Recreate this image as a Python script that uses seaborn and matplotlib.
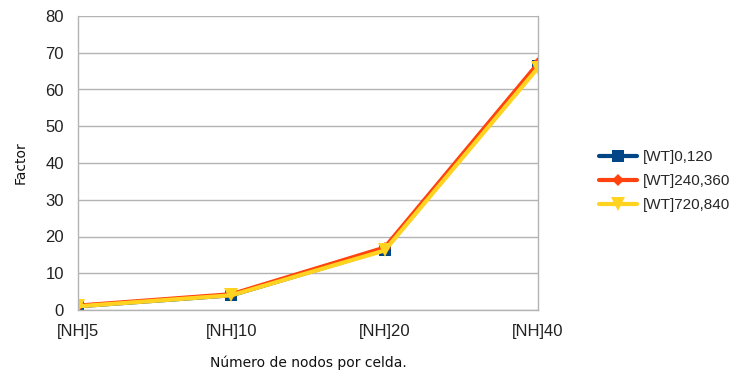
import matplotlib
matplotlib.use("Agg")
import matplotlib.pyplot as plt
import seaborn as sns
import pandas as pd

categories = ["[NH]5", "[NH]10", "[NH]20", "[NH]40"]
series_names = ["[WT]0,120", "[WT]240,360", "[WT]720,840"]
wt_0_120 = [1.0, 4.0, 16.4, 66.4]
wt_240_360 = [1.2, 4.3, 17.0, 67.1]
wt_720_840 = [1.0, 4.0, 16.2, 65.9]
yticks = [0, 10, 20, 30, 40, 50, 60, 70, 80]

sns.set_theme(style="white")
plt.rcParams['font.family'] = ['Liberation Sans', 'DejaVu Sans']

rows = []
for name, vals in zip(series_names, [wt_0_120, wt_240_360, wt_720_840]):
    for i, (c, v) in enumerate(zip(categories, vals)):
        rows.append({"pos": i, "cat": c, "val": v, "series": name})
df = pd.DataFrame(rows)

palette = {"[WT]0,120": "#004586", "[WT]240,360": "#ff420e", "[WT]720,840": "#ffd320"}
markers = {"[WT]0,120": "s", "[WT]240,360": "D", "[WT]720,840": "v"}
msize = {"[WT]0,120": 8.5, "[WT]240,360": 6, "[WT]720,840": 10}

fig = plt.figure(figsize=(7.4, 3.72), dpi=100)
ax = fig.add_axes([78/740, 1 - 310/372, (538-78)/740, (310-16)/372])

for name in series_names:
    sub = df[df.series == name]
    sns.lineplot(data=sub, x="pos", y="val", ax=ax, color=palette[name], lw=3,
                 marker=markers[name], markersize=msize[name], markeredgewidth=0,
                 label=name, legend=False)

ax.set_xlim(0, 3)
ax.set_ylim(0, 80)
ax.set_xticks(range(len(categories)))
ax.set_xticklabels(categories)
ax.set_yticks(yticks)
ax.tick_params(axis="both", labelsize=12, colors="#222222", length=6, width=1, direction="out", pad=4)
ax.tick_params(axis="both", color="#b3b3b3")
ax.grid(axis="y", color="#b3b3b3", lw=1)
for s in ax.spines.values():
    s.set_color("#b3b3b3")
    s.set_linewidth(1)
ax.spines["top"].set_visible(False)

ax.set_xlabel("Número de nodos por celda.", fontsize=10, family=["DejaVu Sans"], labelpad=12, color="#111111")
ax.set_ylabel("Factor", fontsize=10, family=["DejaVu Sans"], labelpad=13, color="#111111")

ax.legend(loc="center left", bbox_to_anchor=(599/740, 1 - 181/372), bbox_transform=fig.transFigure,
          frameon=False, fontsize=11, handlelength=2.5, handletextpad=0.35, labelspacing=0.65,
          borderpad=0, borderaxespad=0)

fig.savefig("out.png", dpi=100)
